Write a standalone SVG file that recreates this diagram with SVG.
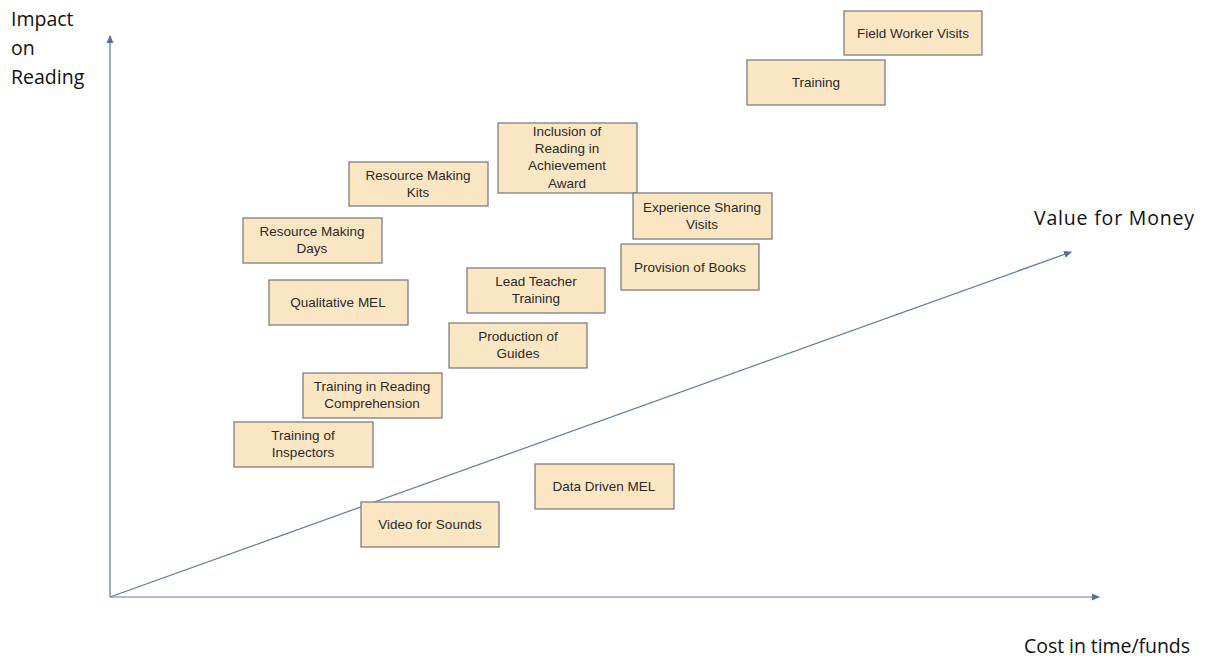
<svg xmlns="http://www.w3.org/2000/svg" width="1209" height="660" viewBox="0 0 1209 660">
<defs>
<marker id="arr" markerWidth="8" markerHeight="8" refX="7" refY="4" orient="auto" markerUnits="userSpaceOnUse">
<path d="M0,0.5 L8,4 L0,7.5 Z" fill="#4f72a0"/>
</marker>
</defs>
<style>
.box{fill:#fbe6c4;stroke:#7f7f7f;stroke-width:1.3}
.t{font-family:"Liberation Sans",Arial,sans-serif;font-size:13.5px;fill:#2a2a2a;text-anchor:middle}
.ax{font-family:"Open Sans","Liberation Sans",sans-serif;font-size:19.5px;fill:#111}
.ln{stroke:#5a7aa3;stroke-width:1.2;fill:none}
</style>
<rect width="1209" height="660" fill="#fff"/>
<g id="connectors">
<line class="ln" x1="110" y1="597" x2="110" y2="36" marker-end="url(#arr)"/>
<line class="ln" x1="110" y1="597" x2="1099" y2="597" marker-end="url(#arr)"/>
<line class="ln" x1="110" y1="597" x2="1071" y2="252" marker-end="url(#arr)"/>
</g>
<g id="labels">
<text class="ax" x="11" y="26">Impact</text>
<text class="ax" x="11" y="55">on</text>
<text class="ax" x="11" y="84">Reading</text>
<text class="ax" x="1034" y="225" textLength="160">Value for Money</text>
<text class="ax" x="1024" y="653" textLength="166">Cost in time/funds</text>
</g>
<g id="n-fieldworker"><rect class="box" x="844" y="11" width="138" height="44"/><text class="t" x="913" y="38">Field Worker Visits</text></g>
<g id="n-training"><rect class="box" x="747" y="60" width="138" height="45"/><text class="t" x="816" y="87">Training</text></g>
<g id="n-inclusion"><rect class="box" x="498" y="123" width="139" height="70"/><text class="t" x="567" y="136">Inclusion of</text><text class="t" x="567" y="153">Reading in</text><text class="t" x="567" y="170">Achievement</text><text class="t" x="567" y="188">Award</text></g>
<g id="n-kits"><rect class="box" x="349" y="162" width="139" height="44"/><text class="t" x="418" y="180">Resource Making</text><text class="t" x="418" y="197">Kits</text></g>
<g id="n-days"><rect class="box" x="243" y="218" width="139" height="45"/><text class="t" x="312" y="236">Resource Making</text><text class="t" x="312" y="253">Days</text></g>
<g id="n-experience"><rect class="box" x="633" y="193" width="139" height="46"/><text class="t" x="702" y="212">Experience Sharing</text><text class="t" x="702" y="229">Visits</text></g>
<g id="n-books"><rect class="box" x="621" y="244" width="138" height="46"/><text class="t" x="690" y="272">Provision of Books</text></g>
<g id="n-qualmel"><rect class="box" x="269" y="280" width="139" height="45"/><text class="t" x="338" y="307">Qualitative MEL</text></g>
<g id="n-leadteacher"><rect class="box" x="467" y="268" width="138" height="45"/><text class="t" x="536" y="286">Lead Teacher</text><text class="t" x="536" y="303">Training</text></g>
<g id="n-guides"><rect class="box" x="449" y="323" width="138" height="45"/><text class="t" x="518" y="341">Production of</text><text class="t" x="518" y="358">Guides</text></g>
<g id="n-comprehension"><rect class="box" x="303" y="373" width="139" height="45"/><text class="t" x="372" y="391">Training in Reading</text><text class="t" x="372" y="408">Comprehension</text></g>
<g id="n-inspectors"><rect class="box" x="234" y="422" width="139" height="45"/><text class="t" x="303" y="440">Training of</text><text class="t" x="303" y="457">Inspectors</text></g>
<g id="n-datamel"><rect class="box" x="535" y="464" width="139" height="45"/><text class="t" x="604" y="491">Data Driven MEL</text></g>
<g id="n-video"><rect class="box" x="361" y="502" width="138" height="45"/><text class="t" x="430" y="529">Video for Sounds</text></g>
</svg>
